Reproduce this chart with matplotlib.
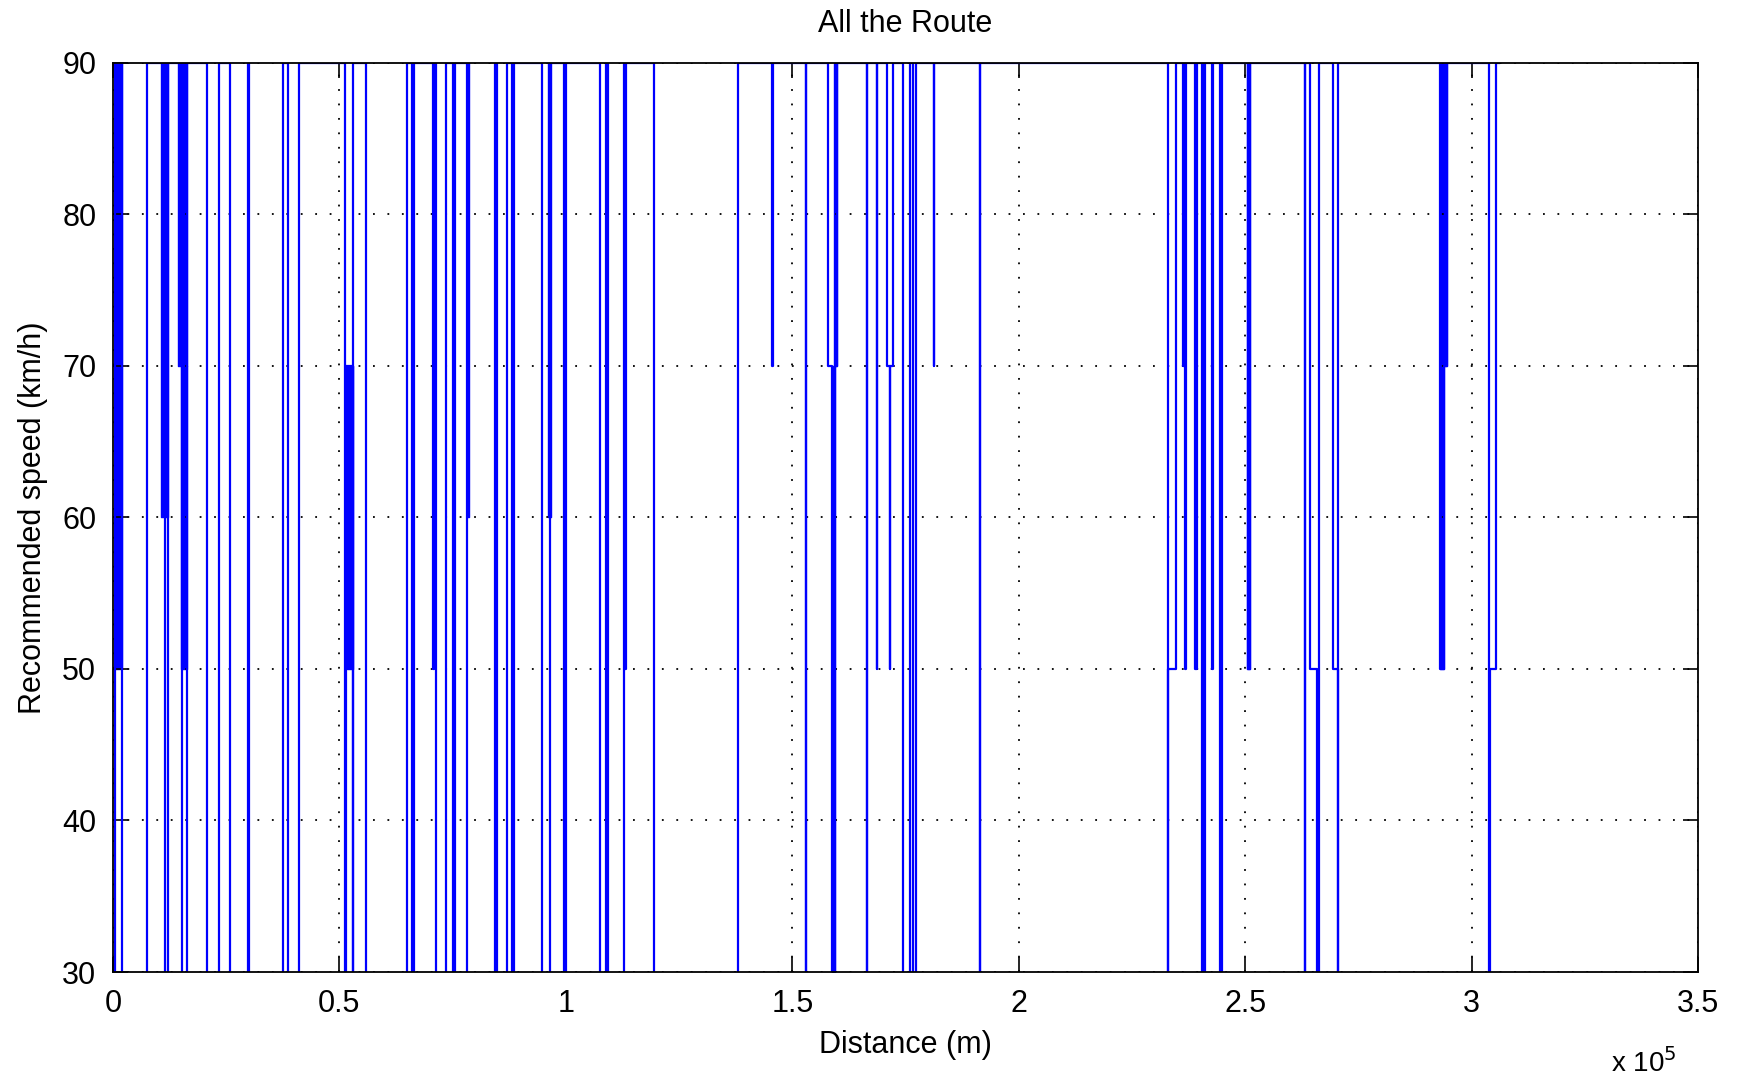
import matplotlib
matplotlib.use("Agg")
import matplotlib.pyplot as plt
from matplotlib.ticker import FuncFormatter

plt.rcParams['font.family'] = ['Liberation Sans', 'DejaVu Sans']

# step profile: speed (km/h) holds from each distance (m) until the next one
dist_m = [0, 400, 1900, 7600, 11400, 12200, 15300, 16300, 20700, 23400,
          25800, 29900, 30100, 37600, 38700, 41100, 51200, 51500, 52900, 53000,
          55800, 65000, 66100, 66400, 70600, 70800, 71400, 73500, 75100, 75500,
          78200, 84400, 84800, 87100, 88200, 88600, 94800, 96500, 99700, 100100,
          107500, 108800, 109200, 112800, 113000, 113300, 119400, 138100, 145600, 145800,
          153000, 153050, 157900, 158700, 159400, 159900, 166500, 166550, 168600, 168800,
          170900, 171500, 171600, 172300, 174500, 176000, 176600, 177400, 181300, 181400,
          191400, 191450, 233000, 233050, 234700, 236300, 236600, 236700, 237000, 239000,
          239300, 240400, 240600, 240900, 241100, 242600, 242800, 244400, 244800, 250600,
          251000, 263200, 263250, 264300, 265900, 266300, 269300, 270500, 270550, 293100,
          294000, 294500, 303900, 304000, 305300, 306000]
speed_kmh = [0, 90, 0, 90, 0, 90, 0, 90, 0, 90,
             0, 90, 0, 90, 0, 90, 0, 70, 0, 90,
             0, 90, 0, 90, 50, 90, 0, 90, 0, 90,
             0, 90, 0, 90, 0, 90, 0, 90, 0, 90,
             0, 90, 0, 90, 50, 90, 0, 90, 70, 90,
             0, 90, 70, 0, 70, 90, 0, 90, 50, 90,
             70, 50, 70, 90, 0, 90, 0, 90, 70, 90,
             0, 90, 0, 50, 90, 70, 90, 50, 90, 50,
             90, 0, 90, 0, 90, 50, 90, 0, 90, 50,
             90, 0, 90, 50, 0, 90, 50, 0, 90, 50,
             70, 90, 0, 50, 90, 90]

# stretches where the speed flips so fast the line looks solid
band_start = [400, 10700, 14300, 15000, 51600, 78100, 96100, 158700, 159300, 250500, 293200, 293100]
band_end = [1900, 12200, 16300, 16300, 53000, 78700, 96700, 159400, 159900, 251000, 294500, 294000]
band_low = [50, 60, 70, 50, 50, 60, 60, 0, 70, 50, 70, 50]
band_high = [90, 90, 90, 70, 70, 90, 90, 70, 90, 90, 90, 70]

x_ticks = [0, 50000, 100000, 150000, 200000, 250000, 300000, 350000]
y_ticks = [30, 40, 50, 60, 70, 80, 90]

fig = plt.figure(figsize=(17.38, 10.8), dpi=100)
ax = fig.add_axes([0.065, 0.1, 0.912, 0.8417])

ax.plot(dist_m, speed_kmh, drawstyle='steps-post', color='#0000ff', lw=1.6)
for s, e, lo, hi in zip(band_start, band_end, band_low, band_high):
    ax.fill_between([s, e], lo, hi, color='#0000ff', linewidth=1.0)

ax.set_xlim(0, 350000)
ax.set_ylim(30, 90)
ax.set_xticks(x_ticks)
ax.set_yticks(y_ticks)
ax.xaxis.set_major_formatter(FuncFormatter(lambda v, p: f"{v / 1e5:g}"))
ax.grid(True, linestyle=(0, (1, 7)), color='black', linewidth=1.3)
ax.tick_params(direction='in', length=11, width=1.2, top=True, right=True,
               labelsize=22, pad=12)
for sp in ax.spines.values():
    sp.set_linewidth(1.3)

ax.set_title('All the Route', fontsize=22, pad=22)
ax.set_xlabel('Distance (m)', fontsize=22, labelpad=8)
ax.set_ylabel('Recommended speed (km/h)', fontsize=22, labelpad=10)
ax.text(0.966, -0.1, r'x 10$^5$', transform=ax.transAxes, ha='center', va='center', fontsize=20)

fig.savefig('out.png', dpi=100, facecolor='white')
